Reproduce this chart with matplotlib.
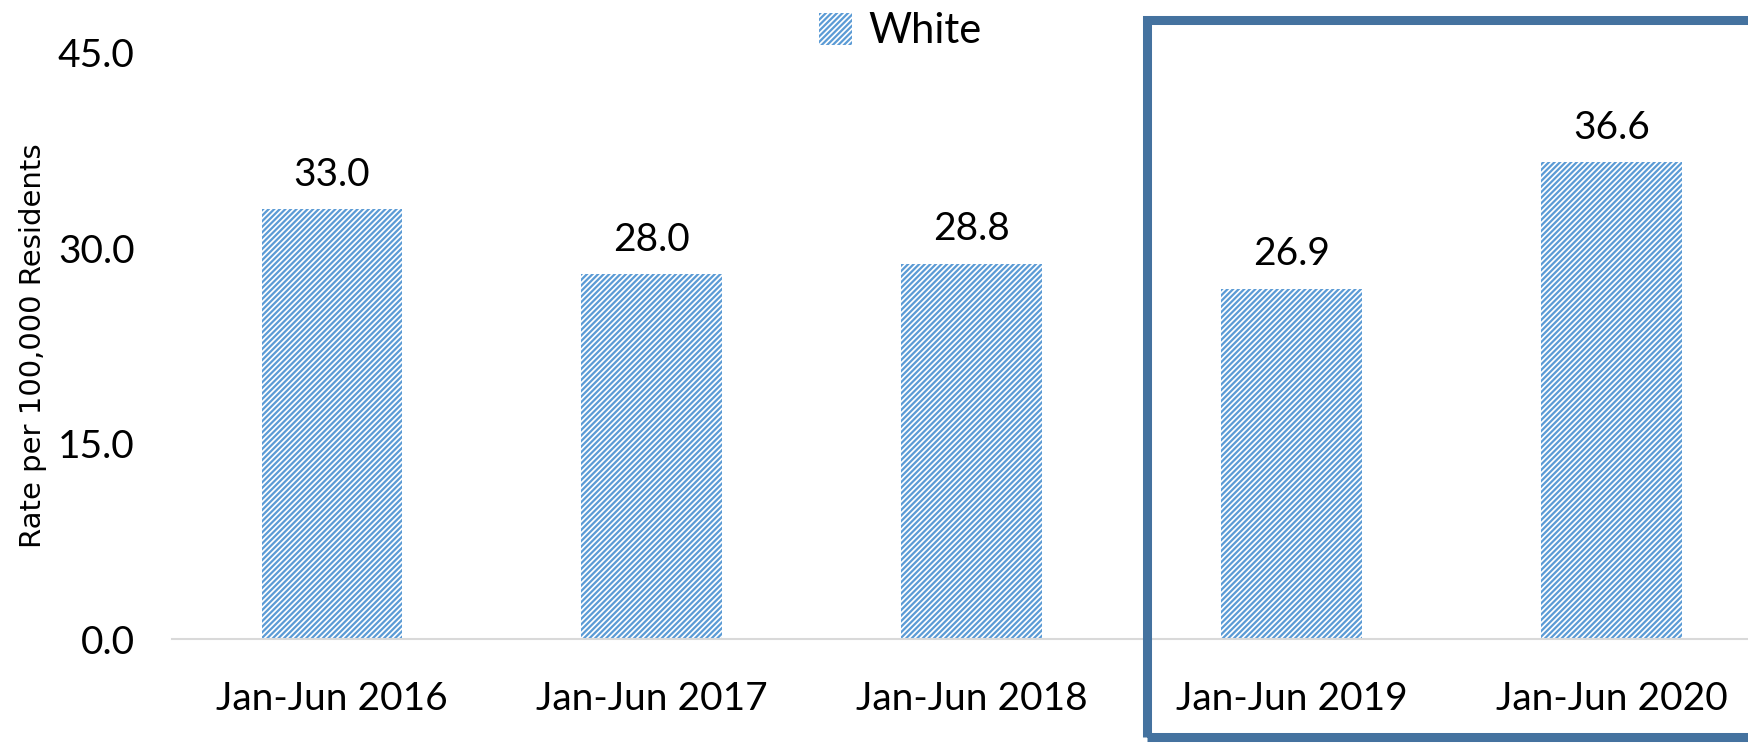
import matplotlib.pyplot as plt
from matplotlib.patches import Rectangle

# --- datos ---
periodos = ['Jan-Jun 2016', 'Jan-Jun 2017', 'Jan-Jun 2018', 'Jan-Jun 2019', 'Jan-Jun 2020']
tasas = [33.0, 28.0, 28.8, 26.9, 36.6]
yticks = [0.0, 15.0, 30.0, 45.0]

plt.rcParams['font.family'] = ['Lato', 'DejaVu Sans']
plt.rcParams['hatch.linewidth'] = 1.6

fig = plt.figure(figsize=(17.48, 7.45), dpi=100)
ax = fig.add_axes([0.0984, 0.142, 0.915, 0.787])

x = list(range(len(periodos)))
barras = ax.bar(x, tasas, width=0.44, facecolor='white', edgecolor='#5B9BD5',
                linewidth=0, hatch='//////', label='White')

for xi, v in zip(x, tasas):
    ax.annotate(f'{v:.1f}', (xi, v), xytext=(0, 25), textcoords='offset points',
                ha='center', va='center', fontsize=28)

ax.set_xlim(-0.5, len(periodos) - 0.5)
ax.set_ylim(0, 45)
ax.set_yticks(yticks)
ax.set_yticklabels([f'{t:.1f}' for t in yticks], fontsize=28)
ax.set_xticks(x)
ax.set_xticklabels(periodos, fontsize=28)
ax.tick_params(axis='both', length=0)
ax.tick_params(axis='x', pad=30)
ax.tick_params(axis='y', pad=27)

for lado in ['top', 'right', 'left']:
    ax.spines[lado].set_visible(False)
ax.spines['bottom'].set_color('#D9D9D9')
ax.spines['bottom'].set_linewidth(1.5)

ax.set_ylabel('Rate per 100,000 Residents', fontsize=21,
              family=['Liberation Sans Narrow', 'DejaVu Sans'], labelpad=8)

ax.legend(loc='center', bbox_to_anchor=(0.515, 0.958), bbox_transform=fig.transFigure,
          frameon=False, fontsize=30, handlelength=0.8, handleheight=0.8,
          handletextpad=0.4)

# recuadro de los dos últimos periodos
caja = Rectangle((1147 / 1748, 8 / 745), 0.5, 1 - 28 / 745, transform=fig.transFigure,
                 fill=False, edgecolor='#44729F', linewidth=6.5, clip_on=False)
fig.patches.append(caja)

fig.savefig('out.png', dpi=100)
